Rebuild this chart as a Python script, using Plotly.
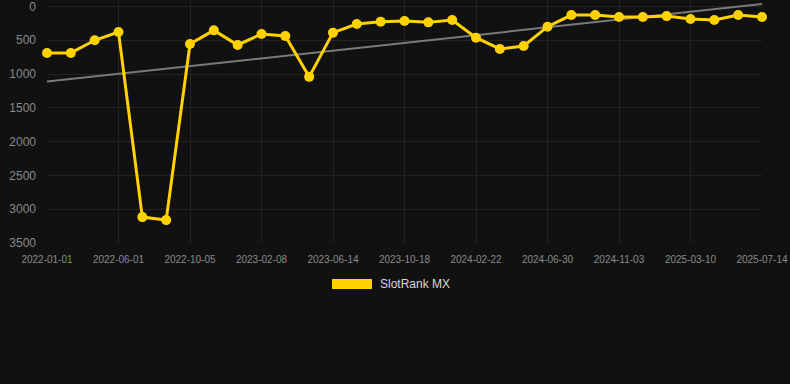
import plotly.graph_objects as go

dates = ["2022-01-01", "2022-02-20", "2022-04-10", "2022-06-01", "2022-07-13", "2022-08-24",
         "2022-10-05", "2022-11-16", "2022-12-28", "2023-02-08", "2023-03-22", "2023-05-03",
         "2023-06-14", "2023-07-26", "2023-09-06", "2023-10-18", "2023-11-29", "2024-01-10",
         "2024-02-22", "2024-04-04", "2024-05-17", "2024-06-30", "2024-08-11", "2024-09-22",
         "2024-11-03", "2024-12-15", "2025-01-26", "2025-03-10", "2025-04-21", "2025-06-02",
         "2025-07-14"]
rank = [688, 688, 501, 379, 3117, 3161, 556, 354, 570, 408, 438, 1042, 388, 261, 226,
        216, 236, 202, 462, 629, 585, 300, 128, 128, 157, 157, 143, 187, 202, 128, 157]
trend_x = ["2022-01-01", "2025-07-14"]
trend_y = [1112, -35]
tick_labels = ["2022-01-01", "2022-06-01", "2022-10-05", "2023-02-08", "2023-06-14", "2023-10-18",
               "2024-02-22", "2024-06-30", "2024-11-03", "2025-03-10", "2025-07-14"]
y_ticks = [0, 500, 1000, 1500, 2000, 2500, 3000, 3500]
series_name = "SlotRank MX"

LINE = "#FFD200"
GRID = "#232323"
TICK = "#8a8a8a"
FONT = "Liberation Sans, Arial, sans-serif"

fig = go.Figure()
fig.add_trace(go.Scatter(
    x=trend_x, y=trend_y, mode="lines",
    line=dict(color="#7a7a7a", width=2),
    showlegend=False, hoverinfo="skip", cliponaxis=False,
))
fig.add_trace(go.Scatter(
    x=dates, y=rank, mode="lines+markers", name=series_name,
    line=dict(color=LINE, width=3),
    marker=dict(color=LINE, size=10),
    showlegend=False, cliponaxis=False,
))

# legend swatch + label
fig.add_shape(type="rect", xref="paper", yref="paper",
              x0=(332 - 47) / 715, x1=(372 - 47) / 715,
              y0=(243 - 289) / 243, y1=(243 - 279) / 243,
              fillcolor=LINE, line=dict(width=0))
fig.add_annotation(text=series_name, xref="paper", yref="paper",
                   x=(378 - 47) / 715, y=(243 - 284) / 243,
                   xanchor="left", yanchor="middle", showarrow=False,
                   font=dict(family=FONT, size=12, color="#d8d8d8"))

fig.update_layout(
    width=790, height=384,
    margin=dict(l=47, r=28, t=0, b=141),
    paper_bgcolor="#111111", plot_bgcolor="#111111",
    font=dict(family=FONT, color=TICK),
    showlegend=False,
    xaxis=dict(
        type="category", categoryorder="array", categoryarray=dates,
        range=[0, len(dates) - 1],
        tickmode="array", tickvals=tick_labels, ticktext=tick_labels,
        tickfont=dict(size=10, color=TICK),
        showgrid=True, gridcolor=GRID, gridwidth=1,
        zeroline=False, showline=False, ticks="", ticklabelstandoff=9,
        ticklabeloverflow="allow",
    ),
    yaxis=dict(
        range=[3500, -95], tickvals=y_ticks,
        tickfont=dict(size=12, color=TICK),
        showgrid=True, gridcolor=GRID, gridwidth=1,
        zeroline=False, showline=False, ticks="", ticklabelstandoff=10,
        ticklabeloverflow="allow",
    ),
)

fig.write_html(
    "out.html",
    config={"displayModeBar": False},
    post_script="document.body.style.margin='0';document.body.style.background='#111111';",
)
